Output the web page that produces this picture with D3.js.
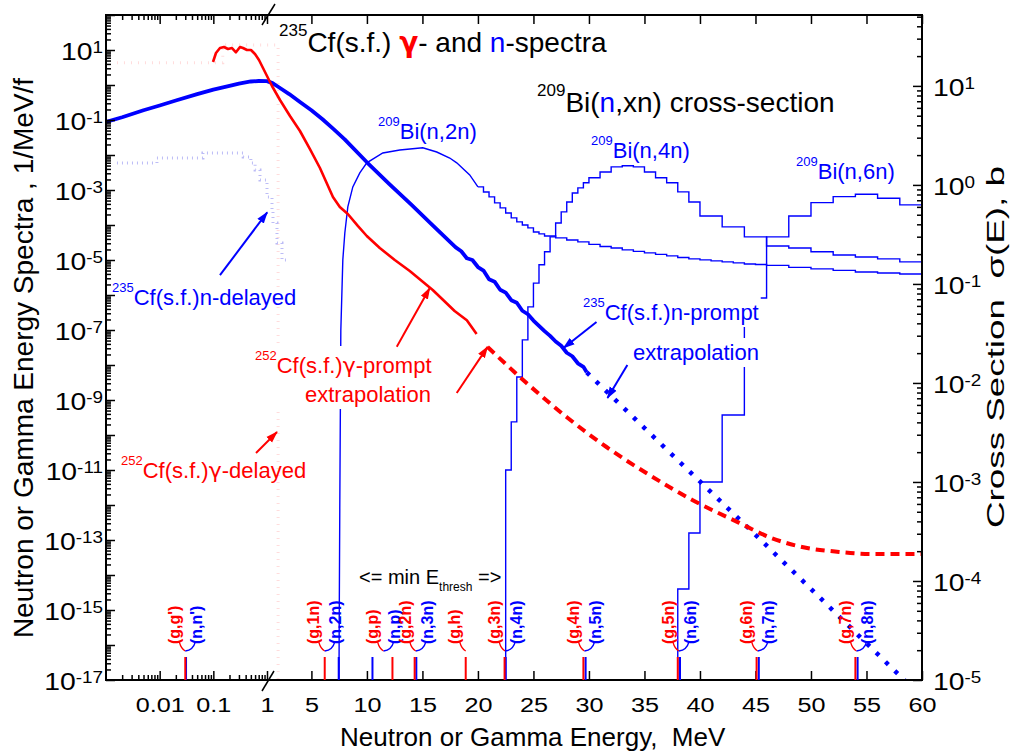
<!DOCTYPE html>
<html>
<head>
<meta charset="utf-8">
<script src="https://cdnjs.cloudflare.com/ajax/libs/d3/7.8.5/d3.min.js"></script>
<style>
  body { margin: 0; background: #fff; }
  svg { font-family: "Liberation Sans", Arial, sans-serif; }
</style>
</head>
<body>
<div id="chart"></div>
<script>
// ---- spectra, 1/MeV/f (left axis) ----
var nPromptE = [0.001, 0.002, 0.005, 0.01, 0.02, 0.05, 0.1, 0.2, 0.3, 0.5, 0.7, 1.0, 1.5, 2, 3, 4, 5, 6, 7, 8, 10, 12, 14, 16, 18,
  18.5, 19, 19.5, 20, 20.5, 21, 21.5, 22, 22.5, 23, 23.5, 24, 24.5, 25, 25.5, 26, 26.5, 27, 27.5, 28, 28.5, 29, 29.5, 29.8]
var nPromptV = [0.088, 0.12, 0.19, 0.26, 0.36, 0.55, 0.74, 0.95, 1.1, 1.26, 1.30, 1.29, 1.13, 0.89, 0.55, 0.32, 0.19, 0.105, 0.055, 0.028, 6.2e-3, 1.5e-3, 3.8e-4, 9.3e-5, 2.3e-5,
  1.78e-5, 1.12e-5, 1.0e-5, 6.3e-6, 5.0e-6, 2.82e-6, 2.4e-6, 1.41e-6, 1.17e-6, 7.1e-7, 6.0e-7, 3.55e-7, 2.82e-7, 1.86e-7, 1.32e-7, 9.3e-8, 6.8e-8, 4.7e-8, 3.55e-8, 2.24e-8, 1.78e-8, 1.12e-8, 8.9e-9, 6.2e-9]
var nExtE = [29.8, 35, 40, 45, 50, 55, 58.4, 60]
var nExtV = [6.2e-9, 1.58e-10, 4.7e-12, 1.41e-13, 4.0e-15, 1.12e-16, 1e-17, 3e-18]

var gPromptE = [0.0986, 0.112, 0.133, 0.158, 0.1875, 0.223, 0.264, 0.314, 0.357, 0.424, 0.503, 0.597, 0.709, 0.842, 1.0, 1.45, 2.17, 3.07, 3.97, 4.87, 5.77, 6.94, 7.56, 8.28, 9.18, 9.99, 11.16, 12.51, 13.86, 15.93, 17.9, 19.0, 19.88]
var gPromptV = [4.54, 8.2, 11.4, 12.2, 10.7, 11.4, 8.6, 12.2, 11.4, 10, 10, 7.69, 5.18, 3.06, 1.81, 0.936, 0.373, 0.13, 0.0485, 0.0148, 4.25e-3, 6.3e-4, 3.27e-4, 2.06e-4, 9.4e-5, 4.85e-5, 2.2e-5, 1e-5, 4.85e-6, 1.39e-6, 3.49e-7, 1.9e-7, 7.7e-8]
var gExtE = [20.87, 24.38, 27.98, 31.58, 35.44, 39.31, 43.54, 46.41, 49.2, 52.53, 55.5, 60]
var gExtV = [3.27e-8, 3.06e-9, 3.27e-10, 4.54e-11, 7.24e-12, 1.39e-12, 3.09e-13, 1.15e-13, 6.3e-14, 4.57e-14, 3.98e-14, 3.98e-14]

var nDelE = [0.0016, 0.0089, 0.064, 0.36, 0.5, 0.6, 0.74, 1.0, 1.45, 1.54, 1.9, 2.35, 2.8]
var nDelV = [5.9e-3, 8.2e-3, 0.0114, 8.8e-3, 5.9e-3, 3.7e-3, 1.93e-3, 6.3e-4, 2.7e-4, 1.14e-4, 3.06e-5, 1e-5, 1e-5]
var gDelE = [0.0016, 0.15, 2.0, 2.01]
var gDelV = [4.3, 13.9, 1e-20, 1e-20]

// ---- 209Bi cross sections, b (right axis) ----
var bi2nE = [7.46, 7.5, 7.56, 7.65, 7.83, 8.01, 8.28, 8.73, 9.36, 9.99, 11.43, 12.96, 15.03, 16.29, 17.46, 18.09, 19.26, 20.0]
var bi2nV = [1e-6, 3e-5, 6.6e-4, 0.034, 0.175, 0.327, 0.6, 0.955, 1.32, 1.67, 2.1, 2.25, 2.37, 2.15, 1.87, 1.67, 1.26, 0.955]
var bi2nStepE = [20, 20.5, 21, 21.5, 22, 22.5, 23, 23.5, 24, 24.5, 25, 25.5, 26, 27, 28, 29, 30, 31, 32, 33, 34, 35, 36, 37, 38, 39, 40, 41, 42, 43, 44, 45, 46, 48, 50, 52, 54, 56, 58, 60]
var bi2nStepV = [0.955, 0.849, 0.757, 0.658, 0.586, 0.521, 0.465, 0.423, 0.394, 0.368, 0.335, 0.32, 0.305, 0.292, 0.278, 0.266, 0.251, 0.239, 0.231, 0.221, 0.213, 0.206, 0.199, 0.192, 0.185, 0.179, 0.175, 0.171, 0.167, 0.163, 0.159, 0.157, 0.154, 0.147, 0.142, 0.137, 0.132, 0.129, 0.126, 0.126]
var bi4nE = [22.5, 22.5, 23, 23.5, 24, 24.5, 25, 25.5, 26, 26.5, 27, 27.5, 28, 28.5, 29, 29.5, 30, 31, 32, 33, 34, 35, 36, 37, 38, 39, 40, 42, 44, 46, 48, 50, 52, 54, 56, 58, 60]
var bi4nV = [1e-7, 1.32e-3, 4.04e-3, 0.0115, 0.0272, 0.0586, 0.102, 0.156, 0.211, 0.299, 0.413, 0.534, 0.673, 0.83, 0.933, 1.05, 1.18, 1.35, 1.52, 1.56, 1.52, 1.35, 1.18, 1.05, 0.85, 0.673, 0.486, 0.377, 0.299, 0.242, 0.231, 0.211, 0.196, 0.187, 0.179, 0.167, 0.167]
var bi6nE = [38, 38, 39, 40, 42, 44, 46, 48, 50, 52, 54, 56, 58, 60]
var bi6nV = [1e-7, 8.3e-5, 3.05e-4, 1.0e-3, 4.75e-3, 0.072, 0.299, 0.486, 0.662, 0.762, 0.805, 0.733, 0.628, 0.628]

// ---- reaction thresholds, MeV ----
var groupE = [0.03, 6.2, 11.5, 14.4, 18.9, 22.45, 29.6, 38.1, 45.2, 54.1]
var gammaLabels = ["(g,g')", "(g,1n)", "(g,p)", "(g,2n)", "(g,h)", "(g,3n)", "(g,4n)", "(g,5n)", "(g,6n)", "(g,7n)"]
var gammaThr = [0.03, 6.2, 12.3, 14.3, 18.9, 22.4, 29.5, 38.0, 45.1, 54.0]
var neutronLabels = ["(n,n')", "(n,2n)", "(n,p)", "(n,3n)", "", "(n,4n)", "(n,5n)", "(n,6n)", "(n,7n)", "(n,8n)"]
var neutronThr = [0.031, 7.46, 10.5, 14.45, null, 22.5, 29.7, 38.2, 45.3, 54.2]

// ---- annotation arrows (MeV, 1/MeV/f) ----
var arrowFromE = [0.133, 12.69, 18.09, 30.68, 33.46, 0.624]
var arrowFromV = [3.7e-6, 3.3e-8, 1.58e-9, 1.69e-7, 1e-8, 3.06e-11]
var arrowToE = [1.02, 15.66, 20.87, 27.71, 31.67, 1.9]
var arrowToV = [2.3e-4, 1.58e-6, 3.3e-8, 3.06e-8, 1.14e-9, 1.22e-10]
var arrowColor = ["b", "r", "r", "b", "b", "r"]

// ---- tick labels ----
var leftExp = [1, -1, -3, -5, -7, -9, -11, -13, -15, -17]
var rightExp = [1, 0, -1, -2, -3, -4, -5]
var logTickLabels = [0.01, 0.1, 1]
var linTickLabels = [5, 10, 15, 20, 25, 30, 35, 40, 45, 50, 55, 60]

var BLUE = "#0000ff", RED = "#ff0000"
var GREEK = "'DejaVu Sans', sans-serif"
var width = 1014, height = 753
var L = 106, R = 922, T = 15, B = 680, XB = 267

var xLog = d3.scaleLog().domain([0.001, 1]).range([L, XB])
var xLin = d3.scaleLinear().domain([1, 60]).range([XB, R])
function x(e) { return e <= 1 ? xLog(e) : xLin(e) }
var y = d3.scaleLog().domain([1e-17, 1e2]).range([B, T])
var y2 = d3.scaleLog().domain([1e-5, 52]).range([B, T])

function zip(a, b) { return a.map(function (e, i) { return [e, b[i]] }) }
var lineL = d3.line().x(function (d) { return x(d[0]) }).y(function (d) { return y(d[1]) })
var lineR = d3.line().x(function (d) { return x(d[0]) }).y(function (d) { return y2(d[1]) })

var svg = d3.select("#chart").append("svg").attr("width", width).attr("height", height)
var defs = svg.append("defs")
defs.append("clipPath").attr("id", "clip").append("rect")
  .attr("x", L).attr("y", T).attr("width", R - L).attr("height", B - T)
;[["b", BLUE], ["r", RED]].forEach(function (m) {
  defs.append("marker").attr("id", "arr" + m[0]).attr("markerUnits", "userSpaceOnUse")
    .attr("viewBox", "0 -5 12 10").attr("refX", 11).attr("refY", 0)
    .attr("markerWidth", 12).attr("markerHeight", 10).attr("orient", "auto")
    .append("path").attr("d", "M0,-4L12,0L0,4Z").attr("fill", m[1])
})

var plot = svg.append("g").attr("clip-path", "url(#clip)")

// faint delayed spectra
plot.append("path").attr("d", lineL.curve(d3.curveStepAfter)(zip(gDelE, gDelV)))
  .attr("fill", "none").attr("stroke", "#ffdcdc").attr("stroke-width", 3).attr("stroke-dasharray", "1,6")
plot.append("path").attr("d", lineL.curve(d3.curveStepAfter)(zip(nDelE, nDelV)))
  .attr("fill", "none").attr("stroke", "#bcbcf6").attr("stroke-width", 3).attr("stroke-dasharray", "1,4")

// cross sections
plot.append("path").attr("d", lineR.curve(d3.curveLinear)(zip(bi2nE, bi2nV)))
  .attr("fill", "none").attr("stroke", BLUE).attr("stroke-width", 1.4)
;[[bi2nStepE, bi2nStepV], [bi4nE, bi4nV], [bi6nE, bi6nV]].forEach(function (s) {
  plot.append("path").attr("d", lineR.curve(d3.curveStepAfter)(zip(s[0], s[1])))
    .attr("fill", "none").attr("stroke", BLUE).attr("stroke-width", 1.4)
})

// spectra
lineL.curve(d3.curveLinear)
plot.append("path").attr("d", lineL(zip(nPromptE, nPromptV)))
  .attr("fill", "none").attr("stroke", BLUE).attr("stroke-width", 3.8).attr("stroke-linejoin", "round")
plot.append("path").attr("d", lineL(zip(nExtE, nExtV)))
  .attr("fill", "none").attr("stroke", BLUE).attr("stroke-width", 4.5).attr("stroke-dasharray", "4,9")
plot.append("path").attr("d", lineL(zip(gPromptE, gPromptV)))
  .attr("fill", "none").attr("stroke", RED).attr("stroke-width", 2.6).attr("stroke-linejoin", "round")
plot.append("path").attr("d", lineL.curve(d3.curveMonotoneX)(zip(gExtE, gExtV)))
  .attr("fill", "none").attr("stroke", RED).attr("stroke-width", 4).attr("stroke-dasharray", "9,6")

// rich text helper: parts = [{t, sup, sub, c, b, f}]
var ann = svg.append("g")
function rich(g, px, py, size, fill, parts) {
  var t = g.append("text").attr("x", px).attr("y", py).attr("font-size", size).attr("fill", fill)
  var shift = 0
  parts.forEach(function (p) {
    var s = t.append("tspan").text(p.t)
    var want = p.sup ? -Math.round(size * 0.57) : (p.sub ? Math.round(size * 0.35) : 0)
    if (want !== shift) { s.attr("dy", want - shift); shift = want }
    if (p.sup || p.sub) s.attr("font-size", Math.round(size * (p.sub ? 0.62 : 0.6)))
    if (p.c) s.attr("fill", p.c)
    if (p.b) s.attr("font-weight", "bold")
    if (p.f) s.attr("font-family", p.f)
  })
  return t
}
function backing(g, texts, pad) {
  var x0 = 1e9, y0 = 1e9, x1 = -1e9, y1 = -1e9
  texts.forEach(function (t) {
    var b = t.node().getBBox()
    x0 = Math.min(x0, b.x); y0 = Math.min(y0, b.y); x1 = Math.max(x1, b.x + b.width); y1 = Math.max(y1, b.y + b.height)
  })
  g.insert("rect", function () { return texts[0].node() })
    .attr("x", x0 - pad).attr("y", y0 - pad).attr("width", x1 - x0 + 2 * pad).attr("height", y1 - y0 + 2 * pad).attr("fill", "#fff")
}

var gp1 = rich(ann, 255, 373, 22, RED, [{ t: "252", sup: true }, { t: "Cf(s.f.)" }, { t: "γ", f: GREEK }, { t: "-prompt" }])
var gp2 = rich(ann, 305, 402, 22, RED, [{ t: "extrapolation" }])
backing(ann, [gp1, gp2], 2)
var np1 = rich(ann, 583, 320, 22, BLUE, [{ t: "235", sup: true }, { t: "Cf(s.f.)n-prompt" }])
backing(ann, [np1], 2)
var np2 = rich(ann, 633, 360, 22, BLUE, [{ t: "extrapolation" }])
backing(ann, [np2], 2)
rich(ann, 112, 305, 22, BLUE, [{ t: "235", sup: true }, { t: "Cf(s.f.)n-delayed" }])
rich(ann, 121, 478, 22, RED, [{ t: "252", sup: true }, { t: "Cf(s.f.)" }, { t: "γ", f: GREEK }, { t: "-delayed" }])
rich(ann, 378, 139, 22, BLUE, [{ t: "209", sup: true }, { t: "Bi(n,2n)" }])
rich(ann, 591, 158, 22, BLUE, [{ t: "209", sup: true }, { t: "Bi(n,4n)" }])
rich(ann, 796, 179, 22, BLUE, [{ t: "209", sup: true }, { t: "Bi(n,6n)" }])
rich(ann, 279, 52, 28, "#000", [{ t: "235", sup: true }, { t: "Cf(s.f.) " }, { t: "γ", c: RED, b: true, f: GREEK }, { t: "- and " }, { t: "n", c: BLUE }, { t: "-spectra" }])
rich(ann, 537, 112, 28, "#000", [{ t: "209", sup: true }, { t: "Bi(" }, { t: "n", c: BLUE }, { t: ",xn) cross-section" }])
rich(ann, 359, 584, 20, "#000", [{ t: "<= min E" }, { t: "thresh", sub: true }, { t: "\u00a0=>" }])

// arrows
arrowFromE.forEach(function (e, i) {
  ann.append("line").attr("x1", x(e)).attr("y1", y(arrowFromV[i]))
    .attr("x2", x(arrowToE[i])).attr("y2", y(arrowToV[i]))
    .attr("stroke", arrowColor[i] === "b" ? BLUE : RED).attr("stroke-width", 2)
    .attr("marker-end", "url(#arr" + arrowColor[i] + ")")
})

// ---- axes ----
function tickAxis(axis, tx, ty, vals, size) {
  var g = svg.append("g").attr("transform", "translate(" + tx + "," + ty + ")")
    .call(axis.tickValues(vals).tickSize(size).tickSizeOuter(0).tickFormat(""))
  g.select(".domain").remove()
  g.selectAll("line").attr("stroke-width", 1.5)
  g.attr("font-family", null).attr("font-size", null)
  return g
}
var minorL = [], majorL = [], minorR = [], majorR = [], minorX = []
for (var e = -17; e <= 2; e++) { majorL.push(Math.pow(10, e)); if (e < 2) for (var m = 2; m <= 9; m++) minorL.push(m * Math.pow(10, e)) }
for (var e2 = -5; e2 <= 1; e2++) { majorR.push(Math.pow(10, e2)); for (var m2 = 2; m2 <= 9; m2++) if (m2 * Math.pow(10, e2) <= 52) minorR.push(m2 * Math.pow(10, e2)) }
for (var e3 = -3; e3 <= -1; e3++) for (var m3 = 2; m3 <= 9; m3++) minorX.push(m3 * Math.pow(10, e3))

tickAxis(d3.axisLeft(y), L, 0, minorL, -5)
tickAxis(d3.axisLeft(y), L, 0, majorL, -9)
tickAxis(d3.axisRight(y2), R, 0, minorR, -5)
tickAxis(d3.axisRight(y2), R, 0, majorR, -9)
tickAxis(d3.axisBottom(xLog), 0, B, minorX, -5)
tickAxis(d3.axisTop(xLog), 0, T, minorX, -5)
var bLog = tickAxis(d3.axisBottom(xLog), 0, B, logTickLabels, -9)
var bLin = tickAxis(d3.axisBottom(xLin), 0, B, linTickLabels, -9)
tickAxis(d3.axisTop(xLog), 0, T, logTickLabels, -9)
tickAxis(d3.axisTop(xLin), 0, T, linTickLabels, -9)

;[bLog, bLin].forEach(function (g) {
  g.selectAll(".tick").append("text").attr("fill", "#000").attr("font-size", 21)
    .attr("text-anchor", "middle").attr("y", 32).attr("transform", "scale(1.2,1)")
    .text(function (d) { return String(d) })
})

function expLabels(scale, tx, exps, anchor, dx) {
  exps.forEach(function (ex) {
    var t = svg.append("text").attr("font-size", 24).attr("text-anchor", anchor)
      .attr("transform", "translate(" + tx + "," + scale(Math.pow(10, ex)) + ") scale(1.18,1)")
      .attr("x", dx).attr("y", 10)
    t.append("tspan").text("10")
    t.append("tspan").attr("dy", -7).attr("font-size", 16).text(String(ex))
  })
}
expLabels(y, L - 3, leftExp, "end", 0)
expLabels(y2, R + 11, rightExp, "start", 0)

// frame
svg.append("rect").attr("x", L).attr("y", T).attr("width", R - L).attr("height", B - T)
  .attr("fill", "none").attr("stroke", "#000").attr("stroke-width", 2)
// axis break marks
svg.append("line").attr("x1", XB - 5).attr("y1", T + 10).attr("x2", XB + 8).attr("y2", T - 11).attr("stroke", "#000").attr("stroke-width", 1.5)
svg.append("line").attr("x1", XB - 5).attr("y1", B + 11).attr("x2", XB + 7).attr("y2", B - 9).attr("stroke", "#000").attr("stroke-width", 1.5)

// axis titles
svg.append("text").attr("transform", "translate(33,358) rotate(-90)").attr("text-anchor", "middle")
  .attr("font-size", 28).text("Neutron or Gamma Energy Spectra , 1/MeV/f")
svg.append("text").attr("x", 340).attr("y", 746).attr("font-size", 26).text("Neutron or Gamma Energy,\u00a0 MeV")
svg.append("text").attr("transform", "translate(1004,347) rotate(-90)").attr("text-anchor", "middle")
  .attr("font-size", 23).attr("textLength", 362).attr("lengthAdjust", "spacingAndGlyphs")
  .text("Cross Section\u00a0 σ(E), b")

// ---- threshold markers ----
var thr = svg.append("g")
groupE.forEach(function (ge, i) {
  var cx = x(ge)
  if (neutronThr[i] !== null) {
    thr.append("line").attr("x1", x(neutronThr[i])).attr("x2", x(neutronThr[i])).attr("y1", B).attr("y2", 657)
      .attr("stroke", BLUE).attr("stroke-width", 2)
  }
  thr.append("line").attr("x1", x(gammaThr[i])).attr("x2", x(gammaThr[i])).attr("y1", B).attr("y2", 657)
    .attr("stroke", RED).attr("stroke-width", 2)
  thr.append("path").attr("d", "M" + cx + ",651Q" + (cx - 4) + ",649 " + (cx - 6) + ",642")
    .attr("fill", "none").attr("stroke", RED).attr("stroke-width", 1.3)
  thr.append("text").attr("transform", "translate(" + (cx - 11) + ",644) rotate(-90)").attr("dy", "0.36em")
    .attr("font-size", 16).attr("font-weight", "bold").attr("fill", RED).text(gammaLabels[i])
  if (neutronLabels[i]) {
    thr.append("path").attr("d", "M" + cx + ",651Q" + (cx + 8) + ",650 " + (cx + 10) + ",642")
      .attr("fill", "none").attr("stroke", BLUE).attr("stroke-width", 1.3)
    thr.append("text").attr("transform", "translate(" + (cx + 11) + ",644) rotate(-90)").attr("dy", "0.36em")
      .attr("font-size", 16).attr("font-weight", "bold").attr("fill", BLUE).text(neutronLabels[i])
  }
})
</script>
</body>
</html>
